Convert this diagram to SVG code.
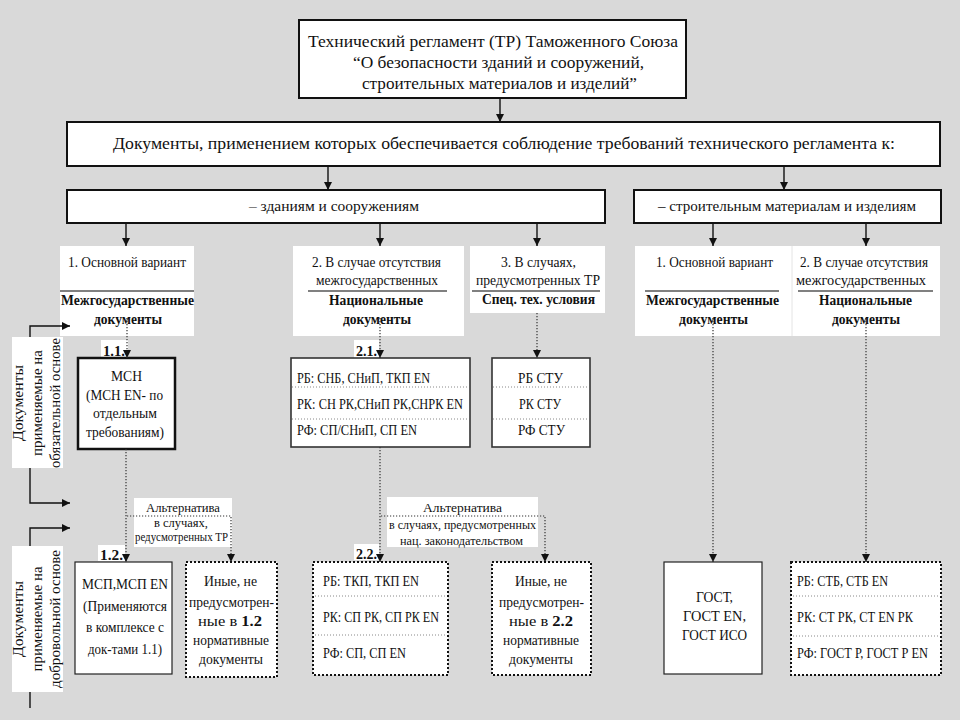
<svg xmlns="http://www.w3.org/2000/svg" width="960" height="720" viewBox="0 0 960 720">
<defs>
<marker id="ah" viewBox="0 0 10 10" refX="10" refY="5" markerWidth="8" markerHeight="9" markerUnits="userSpaceOnUse" orient="auto"><path d="M0,0 L10,5 L0,10 z" fill="#111"/></marker>
<style>
text{font-family:"Liberation Serif","Times New Roman",serif;fill:#111;font-size:15px}
.c{text-anchor:middle}
.b{font-weight:bold}
.big{font-size:16px}
.sm{font-size:12px}
.box{fill:#fff;stroke:#111;stroke-width:2}
.thin{fill:#fff;stroke:#222;stroke-width:1.2}
.mid{fill:#fff;stroke:#333;stroke-width:1.6}
.dotbox{fill:#fff;stroke:#111;stroke-width:2;stroke-dasharray:2 2}
.plain{fill:#fff;stroke:none}
.sep{stroke:#808080;stroke-width:2}
.div{stroke:#888;stroke-width:1;stroke-dasharray:1 2}
.sol{fill:none;stroke:#111;stroke-width:1.4}
.dot{fill:none;stroke:#333;stroke-width:1.2;stroke-dasharray:1.2 1.8}
</style>
</defs>
<rect width="960" height="720" fill="#d9d9d9"/>

<g id="tr-title">
<rect class="box" x="299" y="20" width="387" height="78"/>
<text class="c big" x="493" y="47" textLength="370" lengthAdjust="spacingAndGlyphs">Технический регламент (ТР) Таможенного Союза</text>
<text class="c big" x="498.5" y="68" textLength="291" lengthAdjust="spacingAndGlyphs">“О безопасности зданий и сооружений,</text>
<text class="c big" x="499.5" y="89" textLength="275" lengthAdjust="spacingAndGlyphs">строительных материалов и изделий”</text>
</g>

<g id="documents">
<rect class="box" x="67" y="122" width="873" height="44"/>
<text class="c big" x="504" y="149" textLength="782" lengthAdjust="spacingAndGlyphs">Документы, применением которых обеспечивается  соблюдение требований технического регламента к:</text>
</g>

<g id="buildings">
<rect class="box" x="67" y="190" width="538" height="33"/>
<text class="c" x="334" y="211" textLength="170" lengthAdjust="spacingAndGlyphs">– зданиям и сооружениям</text>
</g>

<g id="materials">
<rect class="box" x="634" y="190" width="307" height="33"/>
<text class="c" x="787" y="211" textLength="258" lengthAdjust="spacingAndGlyphs">– строительным материалам и изделиям</text>
</g>

<g id="b-variant1">
<rect class="plain" x="60" y="246" width="134" height="90"/>
<text class="c" x="127" y="267" textLength="118" lengthAdjust="spacingAndGlyphs">1. Основной вариант</text>
<line class="sep" x1="60" y1="291" x2="194" y2="291"/>
<text class="c b" x="127.5" y="305" textLength="133" lengthAdjust="spacingAndGlyphs">Межгосударственные</text>
<text class="c b" x="128" y="324" textLength="68" lengthAdjust="spacingAndGlyphs">документы</text>
</g>

<g id="b-variant2">
<rect class="plain" x="293" y="246" width="171" height="90"/>
<text class="c" x="376.5" y="267" textLength="129" lengthAdjust="spacingAndGlyphs">2. В случае отсутствия</text>
<text class="c" x="377" y="285" textLength="122" lengthAdjust="spacingAndGlyphs">межгосударственных</text>
<line class="sep" x1="308" y1="291" x2="447" y2="291"/>
<text class="c b" x="376" y="305" textLength="94" lengthAdjust="spacingAndGlyphs">Национальные</text>
<text class="c b" x="377" y="324" textLength="68" lengthAdjust="spacingAndGlyphs">документы</text>
</g>

<g id="b-variant3">
<rect class="plain" x="470" y="246" width="135" height="67"/>
<text class="c" x="538.5" y="267" textLength="75" lengthAdjust="spacingAndGlyphs">3. В случаях,</text>
<text class="c" x="538" y="285" textLength="124" lengthAdjust="spacingAndGlyphs">предусмотренных ТР</text>
<line class="sep" x1="472" y1="291" x2="600" y2="291"/>
<text class="c b" x="538.5" y="304" textLength="113" lengthAdjust="spacingAndGlyphs">Спец. тех. условия</text>
</g>

<g id="m-variant1">
<rect class="plain" x="635" y="246" width="157" height="90"/>
<text class="c" x="714.5" y="267" textLength="117" lengthAdjust="spacingAndGlyphs">1. Основной вариант</text>
<line class="sep" x1="645" y1="291" x2="779" y2="291"/>
<text class="c b" x="712.5" y="305" textLength="133" lengthAdjust="spacingAndGlyphs">Межгосударственные</text>
<text class="c b" x="713.5" y="324" textLength="69" lengthAdjust="spacingAndGlyphs">документы</text>
</g>

<g id="m-variant2">
<rect class="plain" x="792" y="246" width="148" height="90"/>
<line x1="792" y1="246" x2="792" y2="336" stroke="#e4e4e4" stroke-width="1"/>
<text class="c" x="864" y="267" textLength="128" lengthAdjust="spacingAndGlyphs">2. В случае отсутствия</text>
<text class="c" x="861" y="285" textLength="130" lengthAdjust="spacingAndGlyphs">межгосударственных</text>
<line class="sep" x1="798" y1="291" x2="933" y2="291"/>
<text class="c b" x="865.5" y="305" textLength="93" lengthAdjust="spacingAndGlyphs">Национальные</text>
<text class="c b" x="866" y="324" textLength="68" lengthAdjust="spacingAndGlyphs">документы</text>
</g>

<g id="label-mandatory">
<rect class="plain" x="12" y="337" width="51" height="131"/>
<text class="c" transform="translate(23,403) rotate(-90)" textLength="76" lengthAdjust="spacingAndGlyphs">Документы</text>
<text class="c" transform="translate(42,403) rotate(-90)" textLength="106" lengthAdjust="spacingAndGlyphs">применяемые на</text>
<text class="c" transform="translate(60,403) rotate(-90)" textLength="130" lengthAdjust="spacingAndGlyphs">обязательной основе</text>
</g>

<g id="label-voluntary">
<rect class="plain" x="12" y="546" width="51" height="146"/>
<text class="c" transform="translate(23,619) rotate(-90)" textLength="76" lengthAdjust="spacingAndGlyphs">Документы</text>
<text class="c" transform="translate(42,619) rotate(-90)" textLength="105" lengthAdjust="spacingAndGlyphs">применяемые на</text>
<text class="c" transform="translate(60,619) rotate(-90)" textLength="138" lengthAdjust="spacingAndGlyphs">добровольной основе</text>
</g>

<g id="tag-1-1">
<rect class="plain" x="101" y="340" width="27" height="18"/>
<text class="b" x="103" y="356" textLength="22" lengthAdjust="spacingAndGlyphs">1.1.</text>
</g>
<g id="tag-1-2">
<rect class="plain" x="98" y="545" width="27" height="16"/>
<text class="b" x="100" y="560" textLength="23" lengthAdjust="spacingAndGlyphs">1.2.</text>
</g>
<g id="tag-2-1">
<rect class="plain" x="354" y="340" width="25" height="18"/>
<text class="b" x="356" y="356" textLength="21" lengthAdjust="spacingAndGlyphs">2.1.</text>
</g>
<g id="tag-2-2">
<rect class="plain" x="354" y="544" width="25" height="16"/>
<text class="b" x="356" y="559" textLength="21" lengthAdjust="spacingAndGlyphs">2.2.</text>
</g>

<g id="msn">
<rect x="78" y="358" width="97" height="91" fill="#fff" stroke="#111" stroke-width="2.5"/>
<text class="c" x="126.5" y="381" textLength="31" lengthAdjust="spacingAndGlyphs">МСН</text>
<text class="c" x="124.5" y="400" textLength="77" lengthAdjust="spacingAndGlyphs">(МСН EN- по</text>
<text class="c" x="125" y="418" textLength="64" lengthAdjust="spacingAndGlyphs">отдельным</text>
<text class="c" x="125" y="437" textLength="78" lengthAdjust="spacingAndGlyphs">требованиям)</text>
</g>

<g id="national-b">
<rect class="mid" x="291" y="358" width="179" height="89"/>
<line class="div" x1="292" y1="387" x2="469" y2="387"/>
<line class="div" x1="292" y1="419" x2="469" y2="419"/>
<text x="297" y="383" textLength="133" lengthAdjust="spacingAndGlyphs">РБ: СНБ, СНиП, ТКП EN</text>
<text x="297" y="409" textLength="166" lengthAdjust="spacingAndGlyphs">РК: СН РК,СНиП РК,СНРК EN</text>
<text x="297" y="435" textLength="120" lengthAdjust="spacingAndGlyphs">РФ: СП/СНиП, СП EN</text>
</g>

<g id="stu">
<rect class="mid" x="492" y="358" width="98" height="89"/>
<line class="div" x1="493" y1="387" x2="589" y2="387"/>
<line class="div" x1="493" y1="419" x2="589" y2="419"/>
<text class="c" x="540.5" y="383" textLength="45" lengthAdjust="spacingAndGlyphs">РБ  СТУ</text>
<text class="c" x="540" y="409" textLength="42" lengthAdjust="spacingAndGlyphs">РК СТУ</text>
<text class="c" x="541.5" y="435" textLength="47" lengthAdjust="spacingAndGlyphs">РФ  СТУ</text>
</g>

<g id="alt-1">
<rect class="plain" x="134" y="498" width="98" height="49"/>
<text class="c sm" x="183" y="512" textLength="74" lengthAdjust="spacingAndGlyphs">Альтернатива</text>
<text class="c sm" x="181" y="527" textLength="54" lengthAdjust="spacingAndGlyphs">в случаях,</text>
<text class="c sm" x="181.5" y="541" textLength="93" lengthAdjust="spacingAndGlyphs">редусмотренных ТР</text>
</g>

<g id="alt-2">
<rect class="plain" x="387" y="497" width="151" height="50"/>
<text class="c sm" x="462.5" y="512" textLength="79" lengthAdjust="spacingAndGlyphs">Альтернатива</text>
<text class="c sm" x="462.5" y="529" textLength="147" lengthAdjust="spacingAndGlyphs">в случаях, предусмотренных</text>
<text class="c sm" x="461.5" y="545" textLength="123" lengthAdjust="spacingAndGlyphs">нац. законодательством</text>
</g>

<g id="msp">
<rect class="thin" x="75" y="562" width="97" height="112"/>
<text class="c" x="125" y="589" textLength="86" lengthAdjust="spacingAndGlyphs">МСП,МСП EN</text>
<text class="c" x="125" y="611" textLength="84" lengthAdjust="spacingAndGlyphs">(Применяются</text>
<text class="c" x="125" y="632" textLength="78" lengthAdjust="spacingAndGlyphs">в комплексе с</text>
<text class="c" x="125" y="654" textLength="74" lengthAdjust="spacingAndGlyphs">док-тами 1.1)</text>
</g>

<g id="other-1">
<rect class="dotbox" x="186" y="562" width="91" height="115"/>
<text class="c" x="230.5" y="586" textLength="53" lengthAdjust="spacingAndGlyphs">Иные, не</text>
<text class="c" x="231.5" y="607" textLength="85" lengthAdjust="spacingAndGlyphs">предусмотрен-</text>
<text class="c" x="230" y="626" textLength="64" lengthAdjust="spacingAndGlyphs">ные в <tspan class="b">1.2</tspan></text>
<text class="c" x="231" y="645" textLength="76" lengthAdjust="spacingAndGlyphs">нормативные</text>
<text class="c" x="231" y="664" textLength="64" lengthAdjust="spacingAndGlyphs">документы</text>
</g>

<g id="national-v">
<rect class="dotbox" x="313" y="562" width="135" height="113"/>
<line class="div" x1="315" y1="596" x2="446" y2="596"/>
<line class="div" x1="315" y1="635" x2="446" y2="635"/>
<text x="323" y="586" textLength="96" lengthAdjust="spacingAndGlyphs">РБ: ТКП, ТКП EN</text>
<text x="323" y="622" textLength="116" lengthAdjust="spacingAndGlyphs">РК: СП РК, СП РК EN</text>
<text x="323" y="658" textLength="83" lengthAdjust="spacingAndGlyphs">РФ: СП, СП EN</text>
</g>

<g id="other-2">
<rect class="dotbox" x="492" y="562" width="99" height="113"/>
<text class="c" x="541" y="586" textLength="52" lengthAdjust="spacingAndGlyphs">Иные, не</text>
<text class="c" x="541.5" y="607" textLength="85" lengthAdjust="spacingAndGlyphs">предусмотрен-</text>
<text class="c" x="541" y="626" textLength="64" lengthAdjust="spacingAndGlyphs">ные в <tspan class="b">2.2</tspan></text>
<text class="c" x="541" y="645" textLength="76" lengthAdjust="spacingAndGlyphs">нормативные</text>
<text class="c" x="541" y="664" textLength="64" lengthAdjust="spacingAndGlyphs">документы</text>
</g>

<g id="gost">
<rect class="thin" x="664" y="562" width="98" height="112"/>
<text class="c" x="714.5" y="602" textLength="37" lengthAdjust="spacingAndGlyphs">ГОСТ,</text>
<text class="c" x="714.5" y="621" textLength="63" lengthAdjust="spacingAndGlyphs">ГОСТ EN,</text>
<text class="c" x="714.5" y="640" textLength="65" lengthAdjust="spacingAndGlyphs">ГОСТ ИСО</text>
</g>

<g id="national-m">
<rect class="dotbox" x="791" y="562" width="150" height="113"/>
<line class="div" x1="793" y1="596" x2="939" y2="596"/>
<line class="div" x1="793" y1="636" x2="939" y2="636"/>
<text x="797" y="586" textLength="91" lengthAdjust="spacingAndGlyphs">РБ: СТБ, СТБ EN</text>
<text x="797" y="622" textLength="116" lengthAdjust="spacingAndGlyphs">РК: СТ РК, СТ EN РК</text>
<text x="797" y="658" textLength="131" lengthAdjust="spacingAndGlyphs">РФ: ГОСТ Р, ГОСТ Р EN</text>
</g>

<g id="connectors">
<path class="sol" d="M500,98 V122" marker-end="url(#ah)"/>
<path class="sol" d="M328,166 V190" marker-end="url(#ah)"/>
<path class="sol" d="M784,166 V190" marker-end="url(#ah)"/>
<path class="sol" d="M126,223 V246" marker-end="url(#ah)"/>
<path class="sol" d="M380,223 V246" marker-end="url(#ah)"/>
<path class="sol" d="M537,223 V246" marker-end="url(#ah)"/>
<path class="sol" d="M713,223 V246" marker-end="url(#ah)"/>
<path class="sol" d="M866,223 V246" marker-end="url(#ah)"/>
<path class="sol" d="M30,337 V326 H70" marker-end="url(#ah)"/>
<path class="sol" d="M30,468 V503 H70" marker-end="url(#ah)"/>
<path class="sol" d="M30,546 V528 H70" marker-end="url(#ah)"/>
<path class="sol" d="M30,692 V708"/>
<path class="dot" d="M127,318 V358" marker-end="url(#ah)"/>
<path class="dot" d="M126,449 V562" marker-end="url(#ah)"/>
<path class="dot" d="M127,516 H231 V562" marker-end="url(#ah)"/>
<path class="dot" d="M380,318 V358" marker-end="url(#ah)"/>
<path class="dot" d="M380,447 V562" marker-end="url(#ah)"/>
<path class="dot" d="M381,516 H545 V562" marker-end="url(#ah)"/>
<path class="dot" d="M537,313 V358" marker-end="url(#ah)"/>
<path class="dot" d="M713,318 V562" marker-end="url(#ah)"/>
<path class="dot" d="M866,318 V562" marker-end="url(#ah)"/>
</g>
</svg>
